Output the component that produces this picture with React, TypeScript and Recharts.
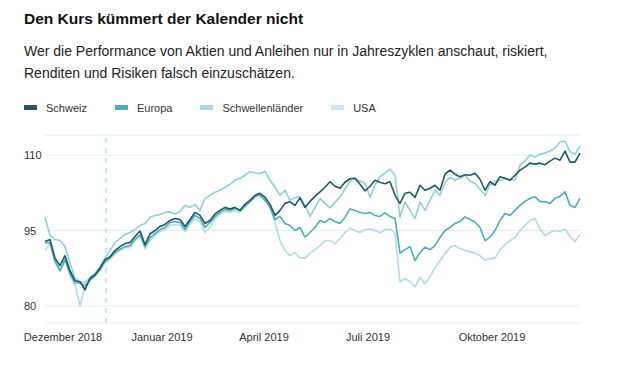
import React from "react";
import { LineChart, Line, XAxis, YAxis, CartesianGrid, ReferenceLine } from "recharts";

const title = "Den Kurs kümmert der Kalender nicht";
const subtitleLines = [
  "Wer die Performance von Aktien und Anleihen nur in Jahreszyklen anschaut, riskiert,",
  "Renditen und Risiken falsch einzuschätzen.",
];

const seriesNames = ["Schweiz", "Europa", "Schwellenländer", "USA"];
const seriesColors = ["#1d5a64", "#4aaebd", "#8fd0da", "#b4dce4"];
const legendColors = ["#1d5a64", "#4aaebd", "#a3dbe4", "#cfe6ee"];

const schweiz = [
  92.8, 93.2, 89.5, 88.0, 90.0, 87.0, 85.0, 84.8, 83.2, 85.5,
  86.2, 87.5, 89.2, 89.8, 91.0, 91.8, 92.4, 92.6, 93.8, 94.9,
  92.2, 94.3, 95.0, 95.8, 96.2, 97.0, 97.4, 97.2, 95.8, 97.2,
  98.6, 98.0, 96.4, 97.0, 98.3, 99.0, 99.6, 99.3, 99.6, 99.0,
  100.2, 101.0, 102.0, 102.4, 101.6, 100.2, 98.0, 99.0, 100.4, 100.7,
  100.0, 101.5, 99.6, 100.8, 101.8, 102.7, 103.6, 104.7, 103.8, 103.4,
  104.6, 105.3, 105.4, 104.2, 102.9, 103.8, 105.0, 104.6, 104.3, 104.7,
  102.0, 100.4, 102.4, 102.6, 101.6, 104.0, 103.0, 103.4, 104.0, 103.0,
  106.2, 107.0, 106.2, 105.7, 106.1, 106.0, 106.4, 105.2, 103.0, 104.7,
  104.0, 105.7, 105.4, 105.0, 106.0, 107.0, 107.6, 108.4, 108.2, 108.4,
  108.1, 108.8, 109.4, 109.0, 110.8, 108.6, 108.6, 110.4,
];

const europa = [
  92.5, 92.6, 89.0, 87.0, 89.2, 86.5, 84.6, 84.5, 84.0, 85.0,
  86.0, 87.2, 88.8, 89.6, 90.6, 91.3, 91.8, 92.0, 93.2, 94.2,
  91.8, 93.6, 94.4, 95.2, 95.6, 96.6, 96.8, 96.6, 95.2, 96.8,
  98.0, 97.4, 95.6, 96.6, 97.8, 98.6, 99.2, 99.0, 99.4, 99.0,
  100.0, 100.8, 101.8, 102.0, 101.0, 99.6, 97.2, 97.8, 96.4, 96.0,
  95.0, 95.6, 93.7, 94.6, 95.6, 97.0, 96.6, 97.4, 96.8, 96.4,
  97.6, 99.3, 99.0, 98.6, 98.4, 98.6, 98.0, 97.8, 98.5, 97.8,
  97.4, 90.5, 91.2, 91.8, 89.0, 90.6, 91.7, 91.2, 92.0, 93.6,
  95.0, 95.6, 96.4, 96.8, 97.7, 97.2, 96.7, 95.6, 93.0, 93.7,
  95.0, 97.0, 98.4, 98.0, 99.0, 100.0, 100.8, 101.4, 101.7, 100.8,
  100.7, 100.4, 101.4, 101.8, 102.7, 100.0, 99.6, 101.4,
];

const schwellenlaender = [
  97.7, 94.0, 93.2, 93.0, 91.8, 88.5, 85.5, 84.8, 84.6, 85.6,
  86.5, 87.8, 89.5, 91.0, 92.6, 93.4, 94.2, 94.6, 95.2, 96.0,
  96.4, 97.6, 98.0, 98.2, 98.6, 98.7, 98.3, 98.8, 100.0, 99.6,
  100.2, 99.0, 101.4, 102.0, 102.6, 103.0, 103.6, 104.2, 105.0, 105.4,
  106.0, 106.7, 106.5, 106.3, 106.8, 105.0, 103.6, 102.0, 103.0, 101.0,
  101.5, 101.7, 100.0, 97.8, 99.5, 101.4, 100.4, 99.5, 100.6, 101.7,
  103.2, 104.8, 105.4, 104.8, 104.4, 101.6, 104.0, 105.7, 106.4, 107.2,
  106.0, 97.7, 100.7, 99.0, 97.4, 100.7, 99.0, 101.0, 103.0, 102.0,
  104.5, 105.6, 105.0, 105.4, 106.0, 104.8, 104.4, 103.2, 102.0, 104.0,
  104.8, 105.0, 105.4, 105.2, 105.0, 108.0, 108.8, 110.0, 109.6, 110.2,
  110.4, 110.8, 111.4, 112.6, 112.8, 110.6, 110.2, 111.8,
];

const usa = [
  91.0, 92.4, 88.5, 87.0, 89.0, 86.0, 84.2, 80.0, 84.0, 85.2,
  86.0, 87.0, 88.6, 89.2, 90.4, 91.0, 91.6, 91.6, 93.0, 94.0,
  91.4, 93.0, 94.0, 94.8, 95.2, 96.0, 96.2, 96.0, 94.8, 96.2,
  97.4, 96.8, 94.6, 95.6, 97.4, 98.2, 98.8, 98.6, 99.0, 98.6,
  99.6, 100.6, 101.6, 102.2, 101.4, 99.7, 96.5, 93.0, 91.0, 90.0,
  90.6, 89.6, 89.5, 90.5, 91.2, 92.0, 93.0, 93.0, 92.4, 93.4,
  94.6, 95.5, 95.0, 94.6, 95.2, 95.3, 95.0, 94.5, 95.2, 95.3,
  94.4, 84.8, 85.4, 84.8, 83.8, 85.7, 84.4, 85.8, 87.6, 89.0,
  90.4, 91.6, 92.0, 91.4, 91.0, 90.8, 90.5, 90.0, 89.1, 89.4,
  89.5, 91.2, 92.2, 93.0, 93.6, 95.0, 96.0, 97.0, 97.4, 95.2,
  94.0, 94.6, 95.0, 94.8, 95.3, 93.8, 92.8, 94.2,
];

const yTicks = [80, 95, 110];
const xTickPositions = [3.6, 23.4, 43.8, 64.6, 89.4];
const xTickLabels = ["Dezember 2018", "Januar 2019", "April 2019", "Juli 2019", "Oktober 2019"];
const yearBoundary = 12.2;

const data = schweiz.map((v, i) => ({
  i,
  Schweiz: v,
  Europa: europa[i],
  "Schwellenländer": schwellenlaender[i],
  USA: usa[i],
}));

const FONT = '"Liberation Sans", Arial, Helvetica, sans-serif';

const YTick = (props: any) => {
  const { y, payload } = props;
  return (
    <text x={24} y={y} dy={4} textAnchor="start" fontSize={11} fill="#333" fontFamily={FONT}>
      {payload.value}
    </text>
  );
};

const XTick = (props: any) => {
  const { x, payload, index } = props;
  return (
    <text x={x} y={341} textAnchor="middle" fontSize={11} fill="#333" fontFamily={FONT}>
      {xTickLabels[index] ?? payload.value}
    </text>
  );
};

export default function App() {
  const drawOrder = [3, 2, 1, 0];
  return (
    <div style={{ position: "absolute", left: 0, top: 0, width: 640, height: 378, background: "#fff", fontFamily: FONT }}>
      <div style={{ position: "absolute", left: 24, top: 10, fontSize: 15.5, fontWeight: 700, color: "#111", whiteSpace: "nowrap" }}>
        {title}
      </div>
      <div style={{ position: "absolute", left: 24, top: 40, fontSize: 14, lineHeight: "22px", color: "#222", whiteSpace: "nowrap" }}>
        {subtitleLines.map((l, k) => (
          <div key={k}>{l}</div>
        ))}
      </div>
      <div style={{ position: "absolute", left: 24, top: 100, height: 16, fontSize: 11, color: "#333" }}>
        {seriesNames.map((n, k) => (
          <span key={n} style={{ display: "inline-flex", alignItems: "center", marginRight: 28 }}>
            <span style={{ display: "inline-block", width: 13, height: 5, background: legendColors[k], marginRight: 9 }} />
            <span>{n}</span>
          </span>
        ))}
      </div>
      <div style={{ position: "absolute", left: 0, top: 0 }}>
        <LineChart width={640} height={378} data={data} margin={{ top: 135, right: 60, bottom: 25, left: 0 }}>
          <CartesianGrid vertical={false} stroke="#e2f1f4" strokeWidth={1} />
          <XAxis
            dataKey="i"
            type="number"
            domain={[0, 107]}
            ticks={xTickPositions}
            tick={<XTick />}
            axisLine={false}
            tickLine={false}
            height={30}
            interval={0}
          />
          <YAxis
            type="number"
            domain={[76.6, 114]}
            ticks={yTicks}
            tick={<YTick />}
            axisLine={false}
            tickLine={false}
            width={45}
            allowDataOverflow
          />
          <ReferenceLine x={yearBoundary} stroke="#9bd3dc" strokeDasharray="5 5" strokeWidth={1} />
          {drawOrder.map((k) => (
            <Line
              key={seriesNames[k]}
              dataKey={seriesNames[k]}
              stroke={seriesColors[k]}
              strokeWidth={1.6}
              dot={false}
              isAnimationActive={false}
              strokeLinejoin="round"
            />
          ))}
        </LineChart>
      </div>
    </div>
  );
}
